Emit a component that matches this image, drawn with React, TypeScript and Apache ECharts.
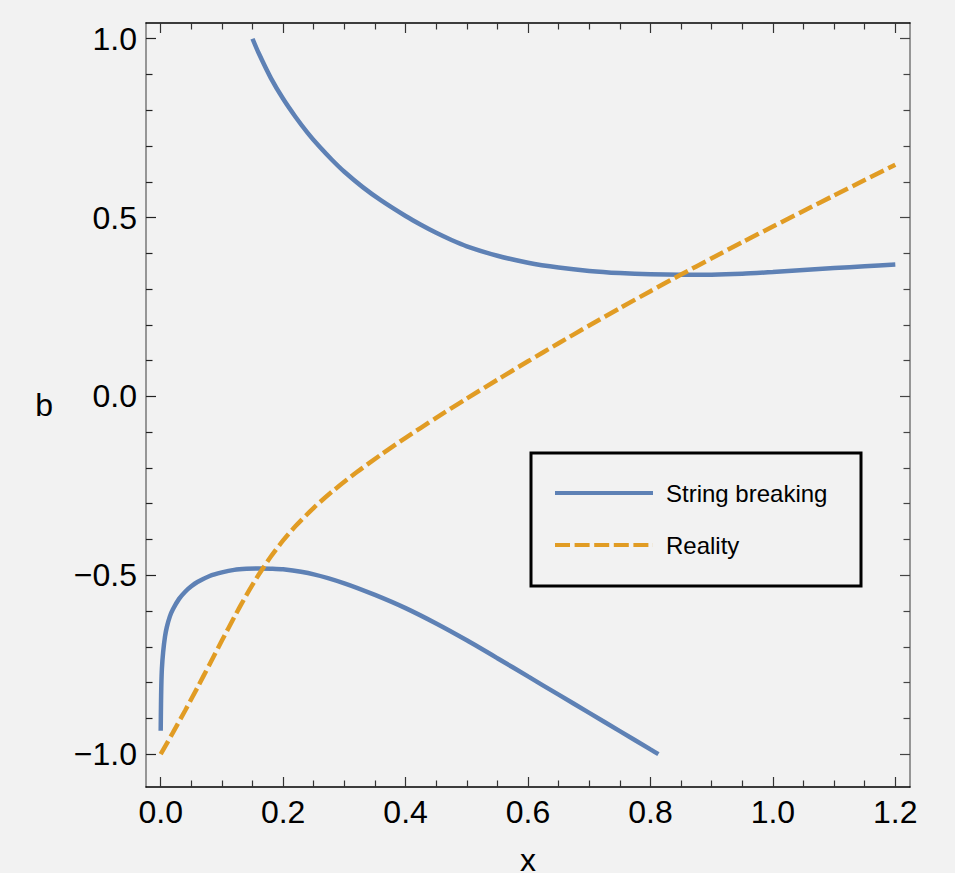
import React, { useEffect, useRef } from "react";
import * as echarts from "echarts";

// ---- data ----
const UPPER_X = [0.15, 0.16, 0.18, 0.2, 0.22, 0.24, 0.26, 0.28, 0.3, 0.33, 0.36, 0.4, 0.425, 0.45, 0.475, 0.5, 0.55, 0.6, 0.65, 0.7, 0.75, 0.8, 0.85, 0.9, 0.95, 1.0, 1.05, 1.1, 1.15, 1.2];
const UPPER_Y = [1.0, 0.96, 0.89, 0.832, 0.782, 0.737, 0.697, 0.661, 0.628, 0.5851, 0.5479, 0.5043, 0.4798, 0.4573, 0.4373, 0.4198, 0.3933, 0.3738, 0.3603, 0.3508, 0.3448, 0.3413, 0.3401, 0.3403, 0.3428, 0.3478, 0.3533, 0.3588, 0.3638, 0.3688];

const LOWER_X = [0.0, 0.0005, 0.001, 0.002, 0.004, 0.007, 0.01, 0.015, 0.02, 0.03, 0.04, 0.05, 0.06, 0.08, 0.1, 0.12, 0.14, 0.16, 0.18, 0.2, 0.25, 0.3, 0.35, 0.4, 0.45, 0.5, 0.55, 0.6, 0.65, 0.7, 0.75, 0.8, 0.813];
const LOWER_Y = [-0.935, -0.86, -0.81, -0.76, -0.715, -0.672, -0.645, -0.615, -0.595, -0.566, -0.546, -0.531, -0.519, -0.502, -0.492, -0.485, -0.482, -0.481, -0.4816, -0.4834, -0.4974, -0.5224, -0.5549, -0.5919, -0.6349, -0.6819, -0.7319, -0.7829, -0.8339, -0.8849, -0.9359, -0.9869, -1.0];

const REAL_X = [0, 0.02, 0.04, 0.06, 0.08, 0.1, 0.12, 0.14, 0.16, 0.18, 0.2, 0.22, 0.25, 0.28, 0.32, 0.36, 0.4, 0.45, 0.5, 0.55, 0.6, 0.65, 0.7, 0.75, 0.8, 0.85, 0.9, 0.95, 1.0, 1.05, 1.1, 1.15, 1.2];
const REAL_Y = [-1.0, -0.94, -0.878, -0.814, -0.7486, -0.6826, -0.6176, -0.5556, -0.4986, -0.4476, -0.4026, -0.3631, -0.3115, -0.2662, -0.2122, -0.1626, -0.1158, -0.0598, -0.0058, 0.0467, 0.0982, 0.1487, 0.1982, 0.2467, 0.2942, 0.3407, 0.3862, 0.431, 0.475, 0.5185, 0.5618, 0.6048, 0.6478];

const X_MAJOR = [0, 0.2, 0.4, 0.6, 0.8, 1.0, 1.2];
const X_MINOR = [0.05, 0.1, 0.15, 0.25, 0.3, 0.35, 0.45, 0.5, 0.55, 0.65, 0.7, 0.75, 0.85, 0.9, 0.95, 1.05, 1.1, 1.15];
const Y_MAJOR = [-1.0, -0.5, 0.0, 0.5, 1.0];
const Y_MINOR = [-0.9, -0.8, -0.7, -0.6, -0.4, -0.3, -0.2, -0.1, 0.1, 0.2, 0.3, 0.4, 0.6, 0.7, 0.8, 0.9];

const SERIES_NAMES = ["String breaking", "Reality"];

const X_MIN = -0.024;
const X_MAX = 1.224;
const Y_MIN = -1.092;
const Y_MAX = 1.044;

const FONT = "'Liberation Sans', Arial, Helvetica, sans-serif";
const BLUE = "#5E81B5";
const ORANGE = "#E19C24";

// legend icons: a solid bar and a five-dash bar
const ICON_SOLID = "path://M0,0h98v4h-98z";
const ICON_DASHED =
  "path://M0,0h15v4h-15zM19.6,0h15v4h-15zM39.2,0h15v4h-15zM58.8,0h15v4h-15zM78.4,0h15v4h-15zM97.9,0h0.1v4h-0.1z";

const fmt = (v: number) => {
  const s = Math.abs(v).toFixed(1);
  return v < -1e-9 ? "\u2212" + s : s;
};

const zip = (xs: number[], ys: number[]) => xs.map((x, i) => [x, ys[i]]);

export default function App() {
  const ref = useRef<HTMLDivElement>(null);

  useEffect(() => {
    document.body.style.margin = "0";
    if (!ref.current) return;
    const chart = echarts.init(ref.current, null, { renderer: "svg" });

    const xBase = (position: string) => ({
      type: "value",
      min: X_MIN,
      max: X_MAX,
      position,
      splitLine: { show: false },
    });
    const yBase = (position: string) => ({
      type: "value",
      min: Y_MIN,
      max: Y_MAX,
      position,
      splitLine: { show: false },
    });
    const line = (color: string, show = true) => ({
      show,
      onZero: false,
      lineStyle: { color, width: 1.5 },
    });

    chart.setOption({
      animation: false,
      backgroundColor: "#f2f2f2",
      grid: {
        left: 146,
        right: 45,
        top: 23,
        bottom: 86,
        containLabel: false,
        outerBoundsMode: "none",
      },
      xAxis: [
        {
          ...xBase("bottom"),
          name: "x",
          nameLocation: "middle",
          nameGap: 57,
          nameTextStyle: { fontSize: 32, color: "#000", fontFamily: FONT },
          axisLine: line("#000"),
          axisTick: { show: true, inside: true, length: 10, customValues: X_MAJOR, lineStyle: { color: "#333", width: 1.2 } },
          axisLabel: { show: true, customValues: X_MAJOR, formatter: fmt, fontSize: 32, color: "#000", fontFamily: FONT, margin: 9 },
        },
        {
          ...xBase("bottom"),
          axisLine: line("#000", false),
          axisTick: { show: true, inside: true, length: 6.5, customValues: X_MINOR, lineStyle: { color: "#333", width: 1.2 } },
          axisLabel: { show: false },
        },
        {
          ...xBase("top"),
          axisLine: line("#000"),
          axisTick: { show: true, inside: true, length: 10, customValues: X_MAJOR, lineStyle: { color: "#333", width: 1.2 } },
          axisLabel: { show: false },
        },
        {
          ...xBase("top"),
          axisLine: line("#000", false),
          axisTick: { show: true, inside: true, length: 6.5, customValues: X_MINOR, lineStyle: { color: "#333", width: 1.2 } },
          axisLabel: { show: false },
        },
      ],
      yAxis: [
        {
          ...yBase("left"),
          name: "b",
          nameLocation: "middle",
          nameRotate: 0,
          nameGap: 93,
          nameTextStyle: { fontSize: 32, color: "#000", fontFamily: FONT },
          axisLine: line("#777"),
          axisTick: { show: true, inside: true, length: 10, customValues: Y_MAJOR, lineStyle: { color: "#222", width: 1.2 } },
          axisLabel: { show: true, customValues: Y_MAJOR, formatter: fmt, fontSize: 32, color: "#000", fontFamily: FONT, margin: 9 },
        },
        {
          ...yBase("left"),
          axisLine: line("#777", false),
          axisTick: { show: true, inside: true, length: 6.5, customValues: Y_MINOR, lineStyle: { color: "#222", width: 1.2 } },
          axisLabel: { show: false },
        },
        {
          ...yBase("right"),
          axisLine: line("#777"),
          axisTick: { show: true, inside: true, length: 10, customValues: Y_MAJOR, lineStyle: { color: "#444", width: 1.2 } },
          axisLabel: { show: false },
        },
        {
          ...yBase("right"),
          axisLine: line("#777", false),
          axisTick: { show: true, inside: true, length: 6.5, customValues: Y_MINOR, lineStyle: { color: "#444", width: 1.2 } },
          axisLabel: { show: false },
        },
      ],
      legend: {
        data: [
          { name: SERIES_NAMES[0], icon: ICON_SOLID, itemStyle: { color: BLUE } },
          { name: SERIES_NAMES[1], icon: ICON_DASHED, itemStyle: { color: ORANGE } },
        ],
        orient: "vertical",
        left: 555,
        top: 481,
        padding: 0,
        itemWidth: 98,
        itemHeight: 4,
        itemGap: 28,
        selectedMode: false,
        textStyle: { fontSize: 24, color: "#000", fontFamily: FONT, padding: [0, 0, 0, 8] },
      },
      graphic: [
        {
          type: "rect",
          shape: { x: 531, y: 453, width: 330, height: 133 },
          style: { fill: "none", stroke: "#000", lineWidth: 3 },
          z: 10,
        },
      ],
      series: [
        {
          name: SERIES_NAMES[0],
          type: "line",
          data: zip(UPPER_X, UPPER_Y),
          symbol: "none",
          smooth: 0.25,
          lineStyle: { color: BLUE, width: 4.5 },
          itemStyle: { color: BLUE },
        },
        {
          name: SERIES_NAMES[0],
          type: "line",
          data: zip(LOWER_X, LOWER_Y),
          symbol: "none",
          smooth: 0.25,
          lineStyle: { color: BLUE, width: 4.5 },
          itemStyle: { color: BLUE },
        },
        {
          name: SERIES_NAMES[1],
          type: "line",
          data: zip(REAL_X, REAL_Y),
          symbol: "none",
          smooth: 0.25,
          lineStyle: { color: ORANGE, width: 4.5, type: [15, 5] },
          itemStyle: { color: ORANGE },
        },
      ],
    });

    return () => chart.dispose();
  }, []);

  return (
    <div
      ref={ref}
      style={{ position: "absolute", left: 0, top: 0, width: 955, height: 873, background: "#f2f2f2" }}
    />
  );
}
